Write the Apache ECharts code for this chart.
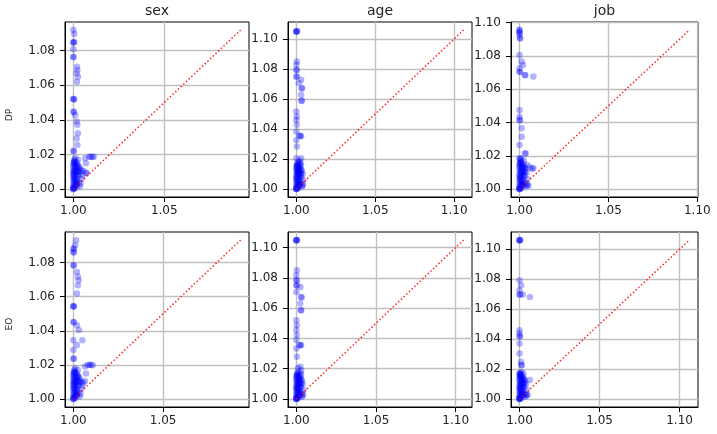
<!DOCTYPE html>
<html>
<head>
<meta charset="utf-8">
<script src="https://cdn.jsdelivr.net/npm/echarts@6/dist/echarts.min.js"></script>
<style>
html,body{margin:0;padding:0;background:#fff;}
#main{width:717px;height:434px;}
</style>
</head>
<body>
<div id="main"></div>
<script>
// 列标题、行标题
var columns = ['sex', 'age', 'job'];
var rows = ['DP', 'EO'];

// 底部密集区域（各子图共用的点云形状）
var denseCluster = [
  [1.000,1.000],[1.000,1.0005],[1.0005,1.001],[1.001,1.002],[1.000,1.003],[1.0015,1.004],[1.000,1.005],[1.0005,1.006],[1.002,1.006],
  [1.001,1.007],[1.000,1.008],[1.0025,1.008],[1.000,1.009],[1.001,1.010],[1.0005,1.011],[1.002,1.011],[1.000,1.012],[1.0015,1.013],
  [1.0005,1.014],[1.003,1.013],[1.000,1.015],[1.002,1.015],[1.001,1.016],[1.0005,1.017],[1.0025,1.017],[1.001,1.018],[1.0035,1.012],
  [1.004,1.010],[1.003,1.008],[1.0045,1.006],[1.003,1.004],[1.004,1.003],[1.002,1.002],[1.0035,1.0015],[1.0015,1.0095],
  [1.000,1.0135],[1.0005,1.0155],[1.002,1.003],[1.000,1.0015],[1.001,1.0045],[1.0005,1.0075],[1.0015,1.0085],[1.001,1.0125],
  [1.0005,1.0105],[1.0015,1.0145],[1.0025,1.0135],[1.002,1.005],[1.0025,1.010],[1.000,1.0065],[1.001,1.0005],[1.0015,1.0025],
  [1.0005,1.0035],[1.003,1.0105],[1.002,1.0125],[1.0005,1.016]
];

// 每个子图的散点 [x, y]
var sexDP = denseCluster.concat([
  [1.000,1.092],[1.0005,1.0896],[1.000,1.0848],[1.000,1.0848],[1.0005,1.085],[1.000,1.0808],[1.000,1.0765],[1.000,1.0762],
  [1.002,1.0707],[1.0022,1.0688],[1.0018,1.0669],[1.0025,1.065],[1.002,1.062],
  [1.000,1.052],[1.000,1.052],[1.0005,1.0518],
  [1.000,1.0447],[1.0003,1.0445],[1.001,1.0428],
  [1.0018,1.039],[1.0022,1.0372],[1.0025,1.0322],[1.0018,1.0293],[1.0022,1.0254],
  [1.000,1.0222],[1.0003,1.0219],
  [1.0087,1.0187],[1.0095,1.0187],[1.0105,1.0185],[1.0112,1.0187],[1.0065,1.0178],[1.0069,1.0149],[1.007,1.0094],[1.0073,1.0092],[1.0055,1.0105],
  [1.005,1.008],[1.0045,1.011],[1.000,1.000],[1.000,1.010],[1.000,1.0005]
]);
var ageDP = denseCluster.concat([
  [1.000,1.105],[1.000,1.105],[1.000,1.105],[1.0005,1.1052],
  [1.0003,1.085],[1.000,1.0828],[1.000,1.0795],[1.0003,1.0792],[1.000,1.075],[1.0003,1.0748],[1.003,1.0728],[1.0015,1.0706],
  [1.0036,1.0673],[1.0033,1.067],[1.003,1.0628],[1.0035,1.059],[1.0032,1.0587],
  [1.000,1.0516],[1.0003,1.0483],[1.000,1.046],[1.0003,1.0428],[1.000,1.0383],[1.0025,1.0354],[1.003,1.0352],[1.002,1.0356],
  [1.000,1.0327],[1.0003,1.0283],[1.000,1.0205],[1.003,1.0205],[1.002,1.019],
  [1.003,1.016],[1.002,1.0175],[1.004,1.0025],[1.001,1.0115],[1.000,1.000],[1.000,1.000]
]);
var jobDP = denseCluster.concat([
  [1.000,1.0956],[1.000,1.0956],[1.000,1.094],[1.000,1.094],[1.000,1.0926],[1.0003,1.0906],[1.0003,1.0906],
  [1.000,1.0806],[1.0012,1.0766],[1.002,1.0746],[1.000,1.0726],[1.000,1.0705],[1.0003,1.0703],[1.003,1.0686],[1.0033,1.0684],[1.0078,1.0676],
  [1.000,1.0475],[1.000,1.0435],[1.000,1.0415],[1.0003,1.0413],[1.0012,1.0365],[1.0012,1.0315],[1.000,1.0265],[1.003,1.0215],
  [1.0035,1.0213],[1.000,1.0185],[1.0003,1.0183],
  [1.0045,1.0145],[1.006,1.013],[1.0078,1.0125],[1.0072,1.0122],
  [1.0045,1.0024],[1.005,1.002],[1.000,1.000],[1.000,1.000]
]);
var sexEO = denseCluster.concat([
  [1.0015,1.093],[1.001,1.0901],[1.000,1.0882],[1.0003,1.0879],[1.000,1.0862],[1.0003,1.0859],[1.000,1.0784],[1.0003,1.0782],
  [1.002,1.0745],[1.0025,1.0716],[1.003,1.0696],[1.0025,1.0667],[1.002,1.0618],
  [1.000,1.0544],[1.000,1.0544],[1.0003,1.0542],
  [1.000,1.0452],[1.0003,1.045],[1.002,1.0433],[1.003,1.0404],
  [1.000,1.0345],[1.005,1.0345],[1.002,1.0316],[1.000,1.0287],
  [1.000,1.0238],[1.0003,1.0236],
  [1.008,1.0199],[1.009,1.0201],[1.0098,1.0199],[1.0107,1.0198],[1.0065,1.019],[1.007,1.015],[1.0045,1.0101],[1.0055,1.0095],[1.0065,1.0105],
  [1.005,1.008],[1.000,1.000],[1.000,1.010]
]);
var ageEO = denseCluster.concat([
  [1.000,1.1048],[1.000,1.1048],[1.000,1.1048],[1.0005,1.105],
  [1.0003,1.085],[1.000,1.0817],[1.000,1.0784],[1.0003,1.0782],[1.000,1.0751],[1.0003,1.0749],[1.0025,1.0739],[1.000,1.0707],
  [1.003,1.0674],[1.0033,1.0671],[1.0025,1.0631],[1.0028,1.0587],[1.003,1.0585],
  [1.000,1.052],[1.0003,1.0487],[1.000,1.0455],[1.0003,1.0422],[1.000,1.0389],[1.002,1.0356],[1.0025,1.0354],[1.003,1.0357],
  [1.000,1.0334],[1.0003,1.0279],[1.0025,1.0213],[1.001,1.0205],
  [1.003,1.019],[1.003,1.016],[1.004,1.0025],[1.000,1.000],[1.000,1.000]
]);
var jobEO = denseCluster.concat([
  [1.000,1.106],[1.000,1.106],[1.000,1.106],[1.0005,1.1062],
  [1.000,1.0793],[1.001,1.076],[1.000,1.0727],[1.000,1.0698],[1.0003,1.0696],[1.002,1.0698],[1.0065,1.0682],
  [1.000,1.046],[1.000,1.0438],[1.000,1.042],[1.0003,1.0418],[1.000,1.0371],[1.000,1.0304],[1.001,1.0249],[1.001,1.0227],
  [1.0015,1.0225],[1.000,1.0171],[1.0003,1.0169],
  [1.0065,1.0127],[1.0045,1.0027],[1.005,1.0025],[1.000,1.000],[1.000,1.000]
]);
var panelData = [sexDP, ageDP, jobDP, sexEO, ageEO, jobEO];

// 对角参考线终点 (y = x)
var diagMax = [1.092, 1.106, 1.0956, 1.0932, 1.105, 1.1062];

// 刻度
var xTicksShort = [1.00, 1.05];
var xTicksLong = [1.00, 1.05, 1.10];
var yTicksShort = [1.00, 1.02, 1.04, 1.06, 1.08];
var yTicksLong = [1.00, 1.02, 1.04, 1.06, 1.08, 1.10];
var xTicks = [xTicksShort, xTicksLong, xTicksLong, xTicksShort, xTicksLong, xTicksLong];
var yTicks = [yTicksShort, yTicksLong, yTicksLong, yTicksShort, yTicksLong, yTicksLong];

var myChart = echarts.init(document.getElementById('main'));

var lefts = [65, 288, 511];
var widths = [184, 184, 187];
var tops = [22, 232];
var FONT = 'DejaVu Sans';

var grids = [], xAxes = [], yAxes = [], series = [];
for (var i = 0; i < 6; i++) {
  var c = i % 3, r = Math.floor(i / 3);
  var d = diagMax[i];
  var pad = (d - 1) * 0.05; // matplotlib 默认留白
  grids.push({
    left: lefts[c], top: tops[r], width: widths[c], height: 175,
    show: true, borderColor: '#000', borderWidth: 1, backgroundColor: 'transparent'
  });
  var common = function (ticks) {
    return {
      type: 'value', min: 1 - pad, max: d + pad,
      axisLine: {show: true, lineStyle: {color: '#000', width: 1}},
      axisTick: {show: true, inside: false, length: 5, customValues: ticks, lineStyle: {color: '#000'}},
      axisLabel: {customValues: ticks, fontSize: 12, color: '#222', fontFamily: FONT,
        formatter: function (v) { return v.toFixed(2); }},
      splitLine: {show: true, lineStyle: {color: '#c0c0c0', width: 1.4}}
    };
  };
  var xa = common(xTicks[i]);
  xa.gridIndex = i; xa.axisLabel.margin = 8;
  var ya = common(yTicks[i]);
  ya.gridIndex = i; ya.axisLabel.margin = 10;
  xAxes.push(xa);
  yAxes.push(ya);
  series.push({
    type: 'scatter', xAxisIndex: i, yAxisIndex: i,
    data: panelData[i], symbolSize: 6.5,
    itemStyle: {color: '#0000ff', opacity: 0.3},
    silent: true
  });
  series.push({
    type: 'line', xAxisIndex: i, yAxisIndex: i,
    data: [[1, 1], [d, d]], symbol: 'none',
    lineStyle: {color: '#ff0000', width: 1.5, type: [1.5, 2.2], opacity: 0.85},
    silent: true
  });
}

var graphics = [];
for (var k = 0; k < 3; k++) {
  graphics.push({type: 'text', x: lefts[k] + widths[k] / 2, y: 11,
    style: {text: columns[k], font: '14px "DejaVu Sans"', fill: '#222', textAlign: 'center', textVerticalAlign: 'middle'}});
}
var rowY = [115, 324];
for (var m = 0; m < 2; m++) {
  graphics.push({type: 'text', x: 10, y: rowY[m], rotation: Math.PI / 2,
    style: {text: rows[m], font: '9px "DejaVu Sans"', fill: '#222', textAlign: 'center', textVerticalAlign: 'middle'}});
}

var option = {
  animation: false,
  backgroundColor: '#fff',
  grid: grids,
  xAxis: xAxes,
  yAxis: yAxes,
  series: series,
  graphic: graphics
};
myChart.setOption(option);
</script>
</body>
</html>
